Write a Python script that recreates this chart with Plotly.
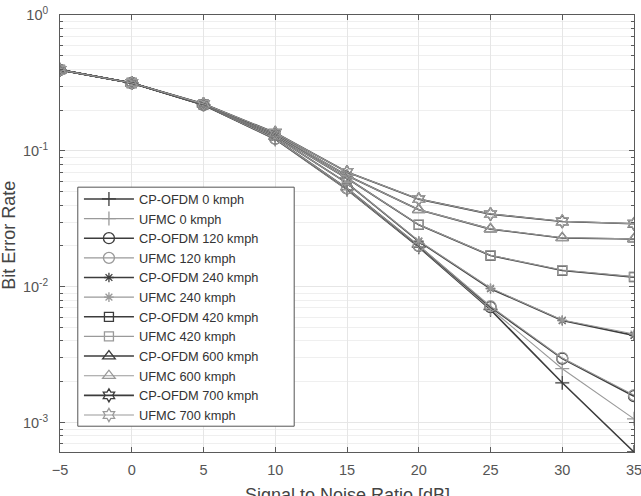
import plotly.graph_objects as go
import math

snr = [-5, 0, 5, 10, 15, 20, 25, 30, 35]

cp_0 = [0.395, 0.316, 0.218, 0.122, 0.052, 0.0196, 0.0068, 0.00197, 0.00061]
uf_0 = [0.395, 0.316, 0.218, 0.122, 0.052, 0.0198, 0.0069, 0.0025, 0.00107]
cp_120 = [0.395, 0.316, 0.218, 0.123, 0.053, 0.0200, 0.0071, 0.00297, 0.00157]
uf_120 = [0.395, 0.316, 0.218, 0.123, 0.053, 0.0201, 0.0072, 0.0030, 0.00160]
cp_240 = [0.395, 0.316, 0.219, 0.127, 0.058, 0.0216, 0.0097, 0.00565, 0.0044]
uf_240 = [0.395, 0.316, 0.219, 0.127, 0.058, 0.0218, 0.0098, 0.0057, 0.0045]
cp_420 = [0.395, 0.316, 0.220, 0.130, 0.063, 0.0286, 0.0170, 0.0132, 0.0118]
uf_420 = [0.395, 0.316, 0.220, 0.130, 0.063, 0.0287, 0.0171, 0.0133, 0.0119]
cp_600 = [0.395, 0.316, 0.221, 0.133, 0.066, 0.0369, 0.0266, 0.0229, 0.0225]
uf_600 = [0.395, 0.316, 0.221, 0.133, 0.066, 0.0370, 0.0267, 0.0230, 0.0226]
cp_700 = [0.395, 0.316, 0.222, 0.136, 0.070, 0.0442, 0.0343, 0.0303, 0.0291]
uf_700 = [0.395, 0.316, 0.222, 0.136, 0.070, 0.0443, 0.0344, 0.0304, 0.0292]

series = [
    ("CP-OFDM 0 kmph", cp_0, "cross-thin-open", "cp"),
    ("UFMC 0 kmph", uf_0, "cross-thin-open", "uf"),
    ("CP-OFDM 120 kmph", cp_120, "circle-open", "cp"),
    ("UFMC 120 kmph", uf_120, "circle-open", "uf"),
    ("CP-OFDM 240 kmph", cp_240, "asterisk-open", "cp"),
    ("UFMC 240 kmph", uf_240, "asterisk-open", "uf"),
    ("CP-OFDM 420 kmph", cp_420, "square-open", "cp"),
    ("UFMC 420 kmph", uf_420, "square-open", "uf"),
    ("CP-OFDM 600 kmph", cp_600, "triangle-up-open", "cp"),
    ("UFMC 600 kmph", uf_600, "triangle-up-open", "uf"),
    ("CP-OFDM 700 kmph", cp_700, "hexagram-open", "cp"),
    ("UFMC 700 kmph", uf_700, "hexagram-open", "uf"),
]

styles = {
    "cp": dict(color="#3c3c3c", width=1.6),
    "uf": dict(color="#9a9a9a", width=1.1),
}
msize = {"cross-thin-open": 10, "circle-open": 11, "asterisk-open": 8,
         "square-open": 9, "triangle-up-open": 11, "hexagram-open": 10}

fig = go.Figure()
for name, vals, sym, kind in series:
    st = styles[kind]
    fig.add_trace(go.Scatter(
        x=snr, y=vals, name=name, mode="lines+markers",
        line=dict(color=st["color"], width=st["width"]),
        marker=dict(symbol=sym, size=msize[sym], color=st["color"],
                    line=dict(color=st["color"], width=1.3)),
    ))

font_fam = "Liberation Sans, Arial, sans-serif"
grid_c = "#e6e6e6"
axis_c = "#5a5a5a"

ytickvals = [1e-3, 1e-2, 1e-1, 1]
yticktext = ["10<sup>-3</sup>", "10<sup>-2</sup>", "10<sup>-1</sup>", "10<sup>0</sup>"]

# legend frame (paper fractions of the plot area)
box_x0, box_x1 = 0.031, 0.408
box_y0, box_y1 = 0.059, 0.606

fig.update_layout(
    width=641, height=496,
    margin=dict(l=60, r=7, t=15, b=44),
    paper_bgcolor="white", plot_bgcolor="white",
    font=dict(family=font_fam, color="#444", size=14),
    showlegend=True,
    legend=dict(
        x=0.033, y=0.613, xanchor="left", yanchor="top",
        bgcolor="rgba(0,0,0,0)", borderwidth=0,
        font=dict(size=12.8, color="#333", family=font_fam),
        itemwidth=50, tracegroupgap=0,
    ),
    shapes=[dict(type="rect", xref="paper", yref="paper",
                 x0=box_x0, x1=box_x1, y0=box_y0, y1=box_y1,
                 fillcolor="white", line=dict(color="#555", width=1),
                 layer="above")],
    xaxis=dict(
        range=[-5, 35], tickvals=[-5, 0, 5, 10, 15, 20, 25, 30, 35],
        showgrid=True, gridcolor=grid_c, gridwidth=1,
        ticks="inside", ticklen=5, tickcolor=axis_c,
        showline=True, linecolor=axis_c, linewidth=1, mirror="ticks",
        zeroline=False, automargin=False,
        ticklabeloverflow="allow", ticklabelstandoff=5,
        tickfont=dict(size=14.5, color="#555"),
    ),
    yaxis=dict(
        type="log", range=[math.log10(6.1e-4), 0],
        tickvals=ytickvals, ticktext=yticktext,
        showgrid=True, gridcolor=grid_c, gridwidth=1,
        ticks="inside", ticklen=5, tickcolor=axis_c,
        showline=True, linecolor=axis_c, linewidth=1, mirror="ticks",
        zeroline=False, automargin=False,
        ticklabeloverflow="allow", ticklabelstandoff=8,
        tickfont=dict(size=14.5, color="#555"),
        minor=dict(dtick="D1", showgrid=True, gridcolor="#efefef",
                   ticks="inside", ticklen=3, tickcolor=axis_c),
    ),
    annotations=[
        dict(text="Bit Error Rate", xref="paper", yref="paper",
             x=-0.0889, y=0.497, xanchor="center", yanchor="middle",
             textangle=-90, showarrow=False,
             font=dict(size=18, color="#444")),
        dict(text="Signal to Noise Ratio [dB]", xref="paper", yref="paper",
             x=0.5, y=-0.07, xanchor="center", yanchor="top",
             showarrow=False, font=dict(size=18, color="#444")),
    ],
)

fig.write_html("out.html")
